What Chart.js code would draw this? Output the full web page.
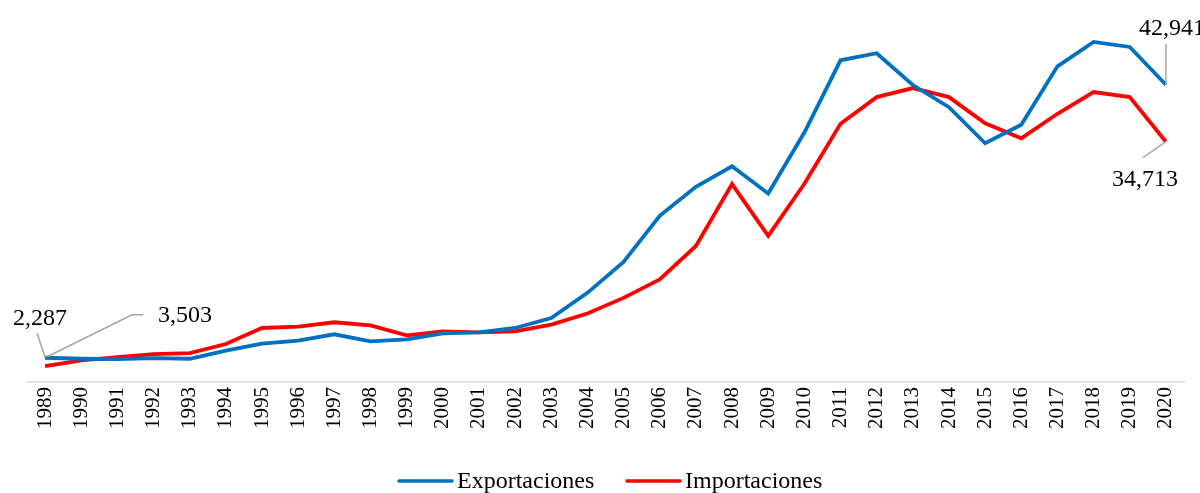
<!DOCTYPE html>
<html>
<head>
<meta charset="utf-8">
<script src="https://cdn.jsdelivr.net/npm/chart.js@4/dist/chart.umd.min.js"></script>
<style>
  html, body { margin: 0; padding: 0; background: #fff; }
  #wrap { width: 1200px; height: 493px; }
</style>
</head>
<body>
<div id="wrap"><canvas id="trade-chart"></canvas></div>
<script>
// Years on the x axis
const years = ['1989','1990','1991','1992','1993','1994','1995','1996','1997','1998',
  '1999','2000','2001','2002','2003','2004','2005','2006','2007','2008','2009','2010',
  '2011','2012','2013','2014','2015','2016','2017','2018','2019','2020'];

// Values
const exportaciones = [3503, 3360, 3300, 3450, 3360, 4520, 5540, 5970, 6890, 5870,
  6160, 7030, 7180, 7800, 9250, 12880, 17330, 24000, 28200, 31150, 27230, 36030,
  46470, 47490, 42900, 39700, 34480, 37150, 45600, 49130, 48400, 42941];
const importaciones = [2287, 3120, 3600, 4030, 4180, 5480, 7800, 8000, 8630, 8190,
  6740, 7320, 7180, 7320, 8290, 9890, 12150, 14820, 19650, 28590, 21100, 28640,
  37290, 41150, 42460, 41150, 37380, 35210, 38740, 41880, 41150, 34713];

const BLUE = '#0070C0';
const RED = '#FF0000';
const SERIF = '"Liberation Serif", "Times New Roman", serif';

const fmt = v => v.toLocaleString('en-US');

// Draws the first/last value labels with grey leader lines, and the legend
const annotatePlugin = {
    id: 'annotate',
    afterDraw(chart) {
        const ctx = chart.ctx;
        const exp = chart.getDatasetMeta(0).data;
        const imp = chart.getDatasetMeta(1).data;
        const e0 = exp[0], i0 = imp[0];
        const eN = exp[exp.length - 1], iN = imp[imp.length - 1];

        ctx.save();
        ctx.strokeStyle = '#a6a6a6';
        ctx.lineWidth = 1.5;

        // 1989 leaders
        ctx.beginPath();
        ctx.moveTo(i0.x, i0.y - 9);
        ctx.lineTo(i0.x - 8, i0.y - 33);
        ctx.stroke();
        ctx.beginPath();
        ctx.moveTo(e0.x + 2, e0.y - 1);
        ctx.lineTo(e0.x + 87, e0.y - 43);
        ctx.lineTo(e0.x + 98, e0.y - 43);
        ctx.stroke();

        // 2020 leaders
        ctx.beginPath();
        ctx.moveTo(eN.x, eN.y);
        ctx.lineTo(eN.x, eN.y - 41);
        ctx.stroke();
        ctx.beginPath();
        ctx.moveTo(iN.x, iN.y);
        ctx.lineTo(iN.x - 23, iN.y + 16);
        ctx.stroke();

        ctx.fillStyle = '#000';
        ctx.font = '24px ' + SERIF;
        ctx.textBaseline = 'middle';
        ctx.textAlign = 'center';
        ctx.fillText(fmt(importaciones[0]), 40, i0.y - 47);
        ctx.textAlign = 'left';
        ctx.fillText(fmt(exportaciones[0]), e0.x + 113, e0.y - 42);
        ctx.textAlign = 'center';
        ctx.fillText(fmt(exportaciones[exportaciones.length - 1]), 1172, eN.y - 56);
        ctx.fillText(fmt(importaciones[importaciones.length - 1]), iN.x - 21, iN.y + 38);

        // Legend
        const items = [
            { text: chart.data.datasets[0].label, color: BLUE, x: 399 },
            { text: chart.data.datasets[1].label, color: RED, x: 627 }
        ];
        const ly = 481;
        ctx.font = '24px ' + SERIF;
        ctx.textAlign = 'left';
        items.forEach(it => {
            ctx.strokeStyle = it.color;
            ctx.lineWidth = 3.5;
            ctx.lineCap = 'round';
            ctx.beginPath();
            ctx.moveTo(it.x, ly);
            ctx.lineTo(it.x + 53, ly);
            ctx.stroke();
            ctx.fillText(it.text, it.x + 58, ly + 1);
        });
        ctx.restore();
    }
};

new Chart(document.getElementById('trade-chart'), {
    type: 'line',
    data: {
        labels: years,
        datasets: [
            {
                label: 'Exportaciones',
                data: exportaciones,
                borderColor: BLUE,
                backgroundColor: BLUE,
                borderWidth: 3.8,
                pointRadius: 0,
                tension: 0
            },
            {
                label: 'Importaciones',
                data: importaciones,
                borderColor: RED,
                backgroundColor: RED,
                borderWidth: 3.8,
                pointRadius: 0,
                tension: 0
            }
        ]
    },
    options: {
        responsive: true,
        maintainAspectRatio: false,
        animation: false,
        layout: {
            padding: { left: 27, right: 16, top: 22, bottom: 59 }
        },
        plugins: {
            legend: { display: false },
            tooltip: { enabled: false }
        },
        scales: {
            x: {
                offset: true,
                grid: {
                    display: false,
                    drawTicks: false
                },
                border: {
                    display: true,
                    color: '#d9d9d9',
                    width: 1.5
                },
                ticks: {
                    minRotation: 90,
                    maxRotation: 90,
                    autoSkip: false,
                    padding: 5,
                    color: '#000',
                    font: { family: SERIF, size: 21 }
                }
            },
            y: {
                display: false,
                min: 0,
                max: 52000
            }
        }
    },
    plugins: [annotatePlugin]
});
</script>
</body>
</html>
